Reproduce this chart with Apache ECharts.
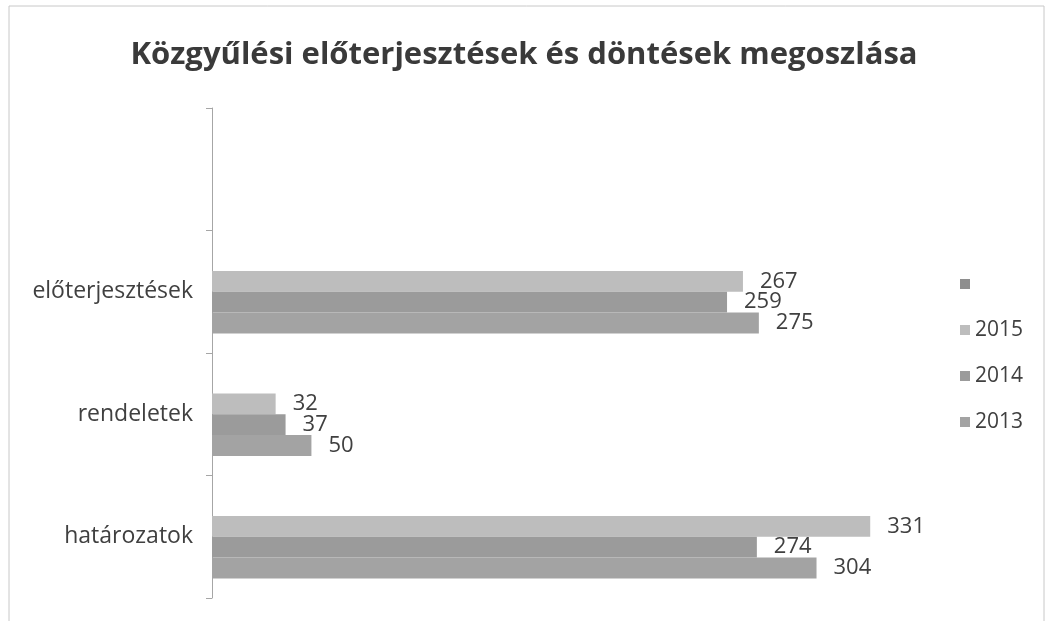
<!DOCTYPE html>
<html>
<head>
<meta charset="utf-8">
<script src="https://cdn.jsdelivr.net/npm/echarts@6/dist/echarts.min.js"></script>
<style>
html,body{margin:0;padding:0;background:#fff;}
#chart{width:1048px;height:621px;}
</style>
</head>
<body>
<div id="chart"></div>
<script>
var categories = ['határozatok', 'rendeletek', 'előterjesztések', ''];
var values2013 = [304, 50, 275, null];
var values2014 = [274, 37, 259, null];
var values2015 = [331, 32, 267, null];
var valuesBlank = [null, null, null, null];
var legendNames = [' ', '2015', '2014', '2013'];

var chart = echarts.init(document.getElementById('chart'));
var labelStyle = {
  show: true, position: 'right', distance: 17,
  fontFamily: 'Open Sans', fontSize: 22, color: '#404040'
};
function mkSeries(name, data, color) {
  return {
    name: name, type: 'bar', data: data, barGap: '0%', barCategoryGap: '32%',
    itemStyle: { color: color },
    label: labelStyle,
    silent: true
  };
}
chart.setOption({
  animation: false,
  title: {
    text: 'Közgyűlési előterjesztések és döntések megoszlása',
    left: 'center', top: 35,
    textStyle: { fontFamily: 'Open Sans', fontWeight: 'bold', fontSize: 31, color: '#3a3a3a' }
  },
  graphic: [{
    type: 'rect', shape: { x: 9, y: 6, width: 1035, height: 640 },
    style: { fill: 'none', stroke: '#c8c8c8', lineWidth: 1 }, silent: true
  }],
  legend: {
    orient: 'vertical', left: 955, top: 267,
    data: legendNames,
    itemWidth: 10, itemHeight: 10, itemGap: 22,
    icon: 'rect',
    textStyle: { fontFamily: 'Open Sans', fontSize: 21, color: '#404040', lineHeight: 24 },
    selectedMode: false
  },
  grid: { left: 212, right: 140, top: 108, bottom: 23, containLabel: false },
  xAxis: {
    type: 'value', min: 0, max: 350,
    axisLine: { show: false }, axisTick: { show: false },
    axisLabel: { show: false }, splitLine: { show: false }
  },
  yAxis: {
    type: 'category', data: categories,
    axisLine: { show: true, lineStyle: { color: '#a6a6a6', width: 1 } },
    axisTick: { show: true, length: 6, lineStyle: { color: '#a6a6a6' } },
    axisLabel: { fontFamily: 'Open Sans', fontSize: 23, color: '#404040', margin: 19 }
  },
  series: [
    mkSeries(' ', valuesBlank, '#8e8e8e'),
    mkSeries('2015', values2015, '#bdbdbd'),
    mkSeries('2014', values2014, '#9b9b9b'),
    mkSeries('2013', values2013, '#a3a3a3')
  ]
});
</script>
</body>
</html>
